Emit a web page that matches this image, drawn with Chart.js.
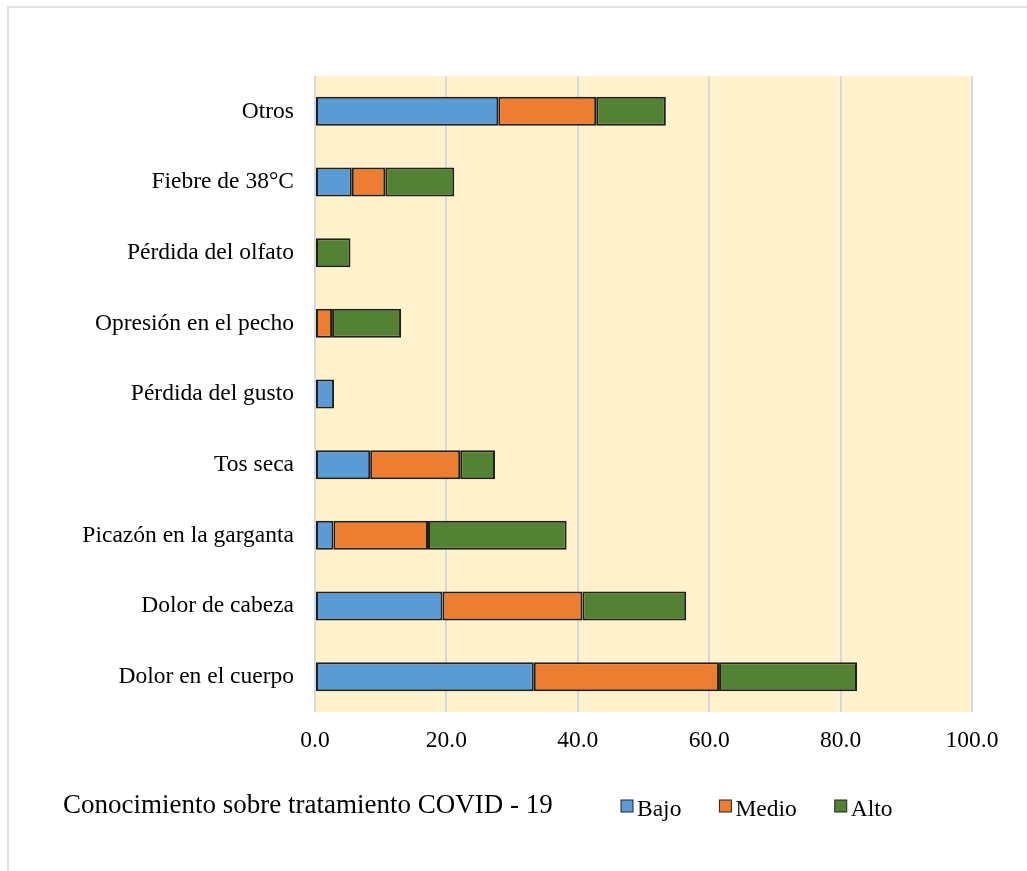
<!DOCTYPE html>
<html>
<head>
<meta charset="utf-8">
<script src="https://cdn.jsdelivr.net/npm/chart.js@4"></script>
<style>
  html, body { margin: 0; padding: 0; background: #fff; }
  #wrap { width: 1027px; height: 871px; position: relative; }
</style>
</head>
<body>
<div id="wrap"><canvas id="chart"></canvas></div>
<script>
const categories = ['Otros', 'Fiebre de 38°C', 'Pérdida del olfato', 'Opresión en el pecho',
    'Pérdida del gusto', 'Tos seca', 'Picazón en la garganta', 'Dolor de cabeza', 'Dolor en el cuerpo']
const bajo = [27.9, 5.6, 0, 0, 2.9, 8.4, 2.8, 19.4, 33.3]
const medio = [14.9, 5.1, 0, 2.6, 0, 13.7, 14.4, 21.3, 28.2]
const alto = [10.6, 10.5, 5.4, 10.5, 0, 5.3, 21.1, 15.8, 21.0]
const seriesNames = ['Bajo', 'Medio', 'Alto']
const seriesColors = ['#5B9BD5', '#ED7D31', '#548235']
const legendTitle = 'Conocimiento sobre tratamiento COVID - 19'

const serif = "'Liberation Serif', 'Times New Roman', serif"

// plot background, frame lines, and the bottom caption + legend
const decor = {
    id: 'decor',
    beforeDraw(chart) {
        const { ctx, chartArea } = chart
        ctx.save()
        ctx.fillStyle = '#FFF2CC'
        ctx.fillRect(chartArea.left, chartArea.top, chartArea.right - chartArea.left, chartArea.bottom - chartArea.top)
        ctx.strokeStyle = '#D9D9D9'
        ctx.lineWidth = 1.5
        ctx.beginPath()
        ctx.moveTo(8, 871)
        ctx.lineTo(8, 7)
        ctx.lineTo(1027, 7)
        ctx.stroke()
        ctx.restore()
    },
    afterDraw(chart) {
        const { ctx } = chart
        ctx.save()
        ctx.fillStyle = '#000'
        ctx.textBaseline = 'alphabetic'
        ctx.font = '27px ' + serif
        ctx.fillText(legendTitle, 63, 813)

        ctx.font = '23.5px ' + serif
        let x = 621
        chart.data.datasets.forEach(ds => {
            ctx.fillStyle = ds.backgroundColor
            ctx.fillRect(x, 800, 12, 12)
            ctx.strokeStyle = '#222'
            ctx.lineWidth = 1
            ctx.strokeRect(x, 800, 12, 12)
            ctx.fillStyle = '#000'
            ctx.fillText(ds.label, x + 16, 816)
            x += 16 + ctx.measureText(ds.label).width + 38
        })
        ctx.restore()
    }
}

const chartData = {
    labels: categories,
    datasets: [bajo, medio, alto].map((values, i) => ({
        label: seriesNames[i],
        data: values,
        backgroundColor: seriesColors[i],
        borderColor: '#1f1f1f',
        borderWidth: c => (c.raw ? 2 : 0),
        borderSkipped: false,
        categoryPercentage: 1,
        barPercentage: 0.41
    }))
}

new Chart(document.getElementById('chart'), {
    type: 'bar',
    data: chartData,
    plugins: [decor],
    options: {
        indexAxis: 'y',
        responsive: true,
        maintainAspectRatio: false,
        animation: false,
        layout: { padding: { top: 76, right: 55, left: 0, bottom: 0 } },
        plugins: {
            legend: { display: false },
            tooltip: { enabled: false }
        },
        scales: {
            x: {
                stacked: true,
                min: 0,
                max: 100,
                afterFit: s => { s.height = 871 - 712 },
                ticks: {
                    stepSize: 20,
                    padding: 15,
                    color: '#000',
                    font: { family: serif, size: 23.5 },
                    callback: v => Number(v).toFixed(1)
                },
                grid: { color: '#D9D9D9', lineWidth: 2, drawTicks: false },
                border: { display: false }
            },
            y: {
                stacked: true,
                afterFit: s => { s.width = 315 },
                ticks: {
                    padding: 21,
                    color: '#000',
                    font: { family: serif, size: 23.5 }
                },
                grid: { display: false, drawTicks: false },
                border: { display: false }
            }
        }
    }
})
</script>
</body>
</html>
